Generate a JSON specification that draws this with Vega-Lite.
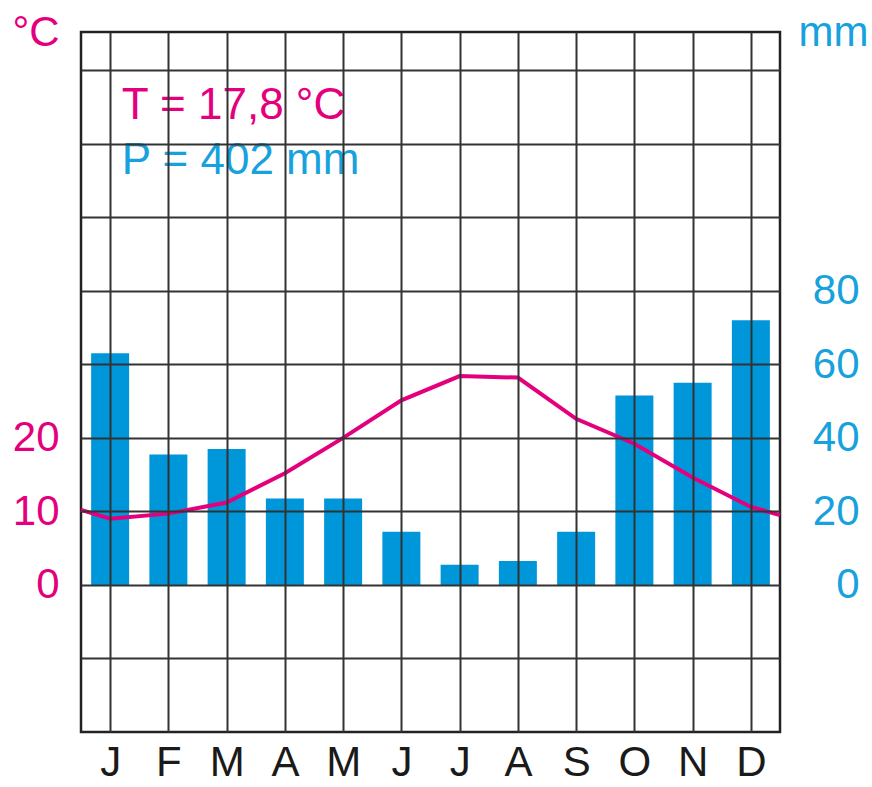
{
  "$schema": "https://vega.github.io/schema/vega-lite/v6.json",
  "width": 699,
  "height": 700,
  "autosize": "none",
  "padding": {"left": 81, "top": 32, "right": 92, "bottom": 55},
  "background": "white",
  "config": {
    "font": "Liberation Sans",
    "view": {"stroke": "#222222", "strokeWidth": 2.5}
  },
  "datasets": {
    "climate": [
      {"month": 1, "precip": 63},
      {"month": 2, "precip": 35.5},
      {"month": 3, "precip": 37},
      {"month": 4, "precip": 23.5},
      {"month": 5, "precip": 23.5},
      {"month": 6, "precip": 14.5},
      {"month": 7, "precip": 5.5},
      {"month": 8, "precip": 6.5},
      {"month": 9, "precip": 14.5},
      {"month": 10, "precip": 51.5},
      {"month": 11, "precip": 55},
      {"month": 12, "precip": 72}
    ],
    "temps": [
      {"month": 0.5, "temp": 10.2},
      {"month": 1, "temp": 9.0},
      {"month": 2, "temp": 9.7},
      {"month": 3, "temp": 11.2},
      {"month": 4, "temp": 15.2},
      {"month": 5, "temp": 20.0},
      {"month": 6, "temp": 25.1},
      {"month": 7, "temp": 28.4},
      {"month": 8, "temp": 28.2},
      {"month": 9, "temp": 22.6},
      {"month": 10, "temp": 19.2},
      {"month": 11, "temp": 14.6},
      {"month": 12, "temp": 10.6},
      {"month": 12.5, "temp": 9.5}
    ],
    "statT": [{"label": "T = 17,8 °C"}],
    "statP": [{"label": "P = 402 mm"}]
  },
  "layer": [
    {
      "data": {"name": "climate"},
      "mark": {"type": "bar", "width": 38, "color": "#0096da"},
      "encoding": {
        "x": {
          "field": "month",
          "type": "quantitative",
          "scale": {"domain": [0.5, 12.5], "nice": false, "zero": false, "padding": 0},
          "axis": {
            "orient": "bottom",
            "values": [1, 2, 3, 4, 5, 6, 7, 8, 9, 10, 11, 12],
            "labelExpr": "['J','F','M','A','M','J','J','A','S','O','N','D'][datum.value - 1]",
            "grid": true,
            "gridColor": "#333333",
            "gridWidth": 2,
            "ticks": false,
            "domain": false,
            "labelFontSize": 42,
            "labelColor": "#1a1a1a",
            "labelPadding": 10,
            "labelFlush": false,
            "labelOverlap": false,
            "title": null,
            "zindex": 1
          }
        },
        "y": {
          "field": "precip",
          "type": "quantitative",
          "scale": {"domain": [-40, 150.4], "nice": false},
          "axis": {
            "orient": "right",
            "values": [0, 20, 40, 60, 80],
            "grid": false,
            "ticks": false,
            "domain": false,
            "labelAlign": "right",
            "labelPadding": 79,
            "labelFontSize": 42,
            "labelColor": "#17a2dd",
            "labelOverlap": false,
            "labelFlush": false,
            "title": "mm",
            "titleAngle": 0,
            "titleX": 18,
            "titleY": 13,
            "titleAlign": "left",
            "titleBaseline": "alphabetic",
            "titleFontSize": 42,
            "titleFontWeight": "normal",
            "titleColor": "#17a2dd"
          }
        }
      }
    },
    {
      "layer": [
        {
          "data": {"name": "temps"},
          "mark": {"type": "line", "color": "#e4007c", "strokeWidth": 4},
          "encoding": {
            "x": {"field": "month", "type": "quantitative"},
            "y": {
              "field": "temp",
              "type": "quantitative",
              "scale": {"domain": [-20, 75.2], "nice": false},
              "axis": {
                "orient": "left",
                "values": [-10, 0, 10, 20, 30, 40, 50, 60, 70],
                "labelExpr": "datum.value >= 0 && datum.value <= 20 ? datum.label : ''",
                "grid": true,
                "gridColor": "#333333",
                "gridWidth": 2,
                "ticks": false,
                "domain": false,
                "labelPadding": 22,
                "labelFontSize": 42,
                "labelColor": "#e4007c",
                "labelOverlap": false,
                "labelFlush": false,
                "title": "°C",
                "titleAngle": 0,
                "titleX": -69,
                "titleY": 13,
                "titleAlign": "left",
                "titleBaseline": "alphabetic",
                "titleFontSize": 42,
                "titleFontWeight": "normal",
                "titleColor": "#e4007c",
                "zindex": 1
              }
            }
          }
        },
        {
          "data": {"name": "statT"},
          "mark": {"type": "text", "align": "left", "baseline": "alphabetic", "fontSize": 44, "color": "#e4007c"},
          "encoding": {
            "x": {"datum": 1.2, "type": "quantitative"},
            "y": {"datum": 63.4, "type": "quantitative"},
            "text": {"field": "label"}
          }
        },
        {
          "data": {"name": "statP"},
          "mark": {"type": "text", "align": "left", "baseline": "alphabetic", "fontSize": 44, "color": "#17a2dd"},
          "encoding": {
            "x": {"datum": 1.2, "type": "quantitative"},
            "y": {"datum": 55.9, "type": "quantitative"},
            "text": {"field": "label"}
          }
        }
      ]
    }
  ],
  "resolve": {"scale": {"y": "independent"}, "axis": {"y": "independent"}}
}
